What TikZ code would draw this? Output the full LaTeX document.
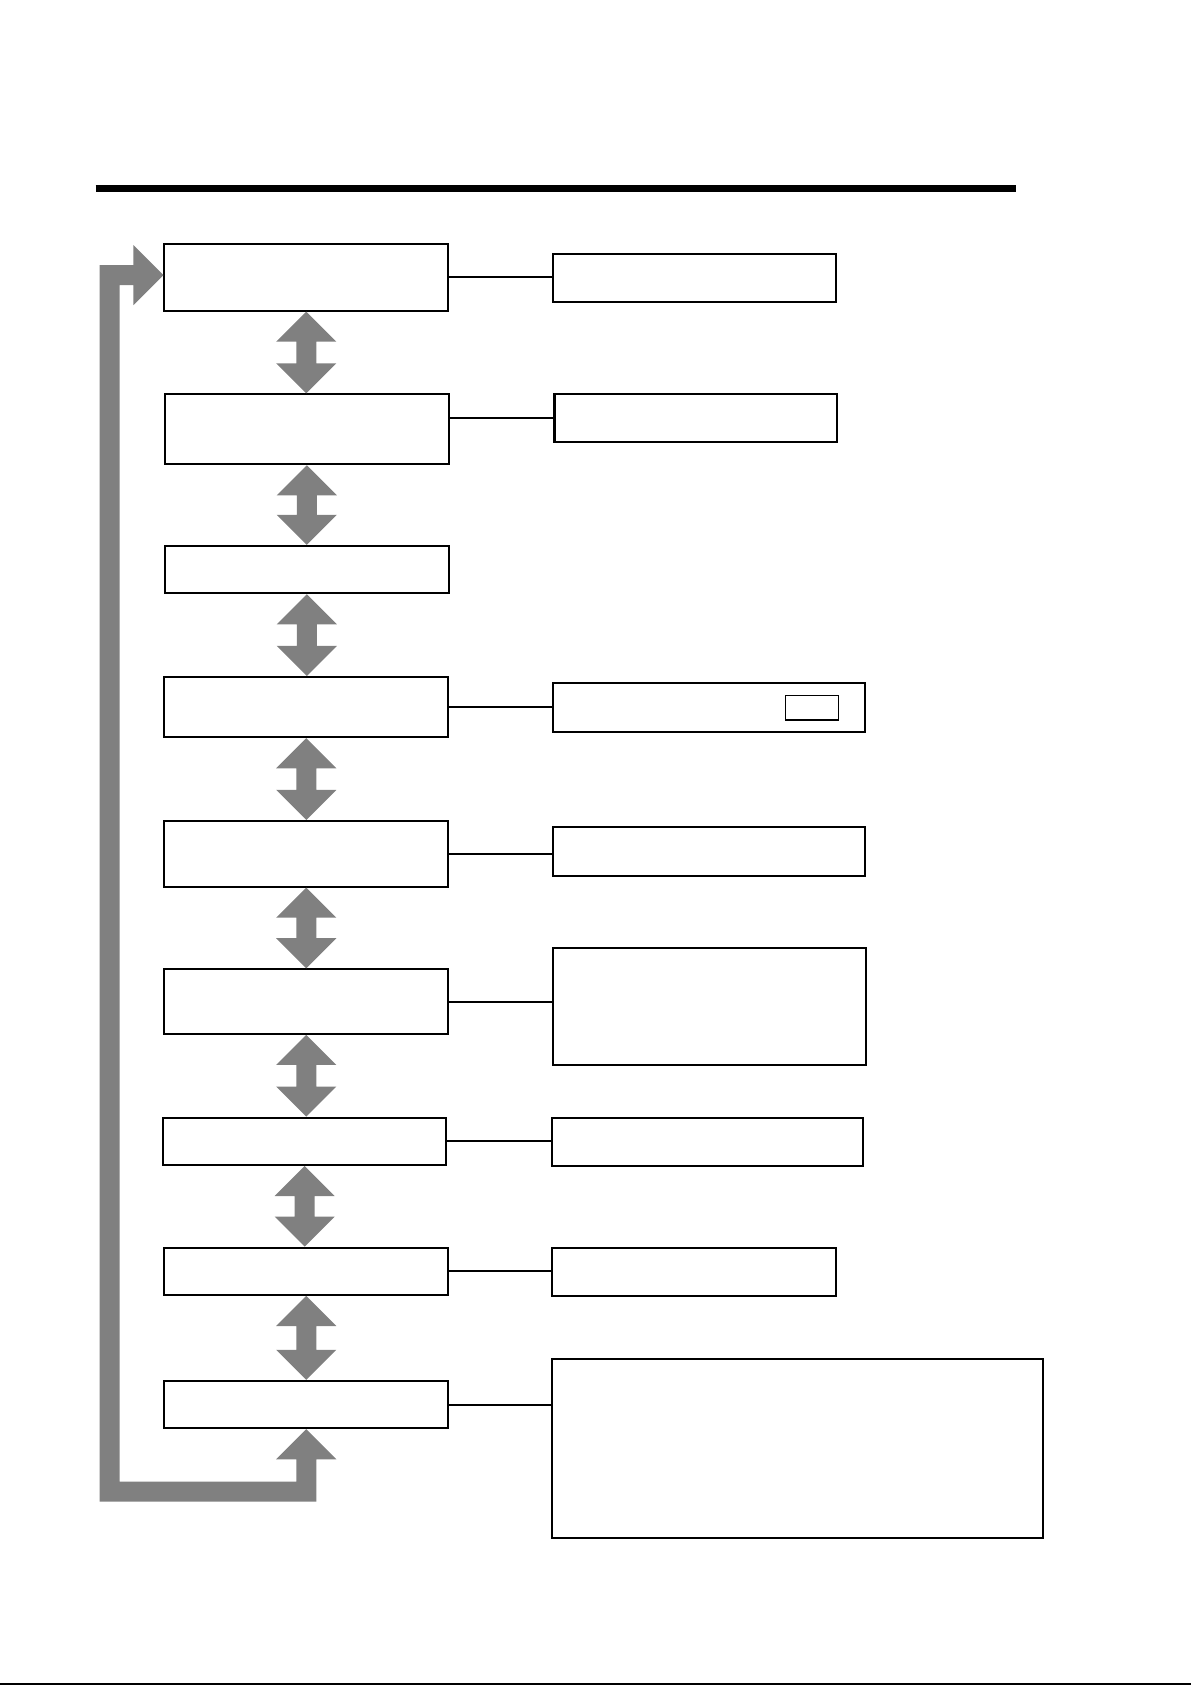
\documentclass[tikz,border=0pt]{standalone}
\newlength{\du}
\setlength{\du}{0.5pt}
\tikzset{
  stepbox/.style={draw=black, line width=1.9\du, minimum width=264\du, inner sep=0pt},
  sidebox/.style={draw=black, line width=1.9\du, inner sep=0pt},
  link/.style={draw=black, line width=1.9\du},
  grayarrow/.style={fill=gray},
}
% two-headed gray arrow from the bottom of #1 to the top of #2, kept upright
\newcommand{\twoway}[2]{%
  \coordinate (tw-a) at (#1.south);
  \coordinate (tw-b) at (#1.south |- #2.north);
  \fill[grayarrow] (tw-a)--([shift={(28\du,28\du)}]tw-a)--([shift={(9.3\du,28\du)}]tw-a)
    --([shift={(9.3\du,-28\du)}]tw-b)--([shift={(28\du,-28\du)}]tw-b)--(tw-b)
    --([shift={(-28\du,-28\du)}]tw-b)--([shift={(-9.3\du,-28\du)}]tw-b)
    --([shift={(-9.3\du,28\du)}]tw-a)--([shift={(-28\du,28\du)}]tw-a)--cycle;}

\begin{document}
\begin{tikzpicture}
\pgftransformxscale{1.000000}
\pgftransformyscale{-1.000000}
\useasboundingbox (0\du,0\du) rectangle (1108.3\du,1568\du);
% rule at the top
\draw[line width=6.5\du] (89\du,175.5\du)--(945\du,175.5\du);
% steps, left column
\node[stepbox, minimum height=62\du] (s1) at (285\du,258\du) {};
\node[stepbox, minimum height=65\du] (s2) at (285.5\du,399.5\du) {};
\node[stepbox, minimum height=44\du] (s3) at (285.5\du,530\du) {};
\node[stepbox, minimum height=56\du] (s4) at (285\du,658\du) {};
\node[stepbox, minimum height=61\du] (s5) at (285\du,794.5\du) {};
\node[stepbox, minimum height=60\du] (s6) at (285\du,932\du) {};
\node[stepbox, minimum width=263\du, minimum height=44\du] (s7) at (283.5\du,1062\du) {};
\node[stepbox, minimum height=44\du] (s8) at (285\du,1183\du) {};
\node[stepbox, minimum height=44\du] (s9) at (285\du,1307\du) {};
% notes, right column
\node[sidebox, minimum width=263\du, minimum height=45\du] (r1) at (646.5\du,258.5\du) {};
\node[sidebox, minimum width=263\du, minimum height=44\du] (r2) at (647.5\du,389\du) {};
\node[sidebox, minimum width=290\du, minimum height=45\du] (r4) at (660\du,658.5\du) {};
\node[draw=black, line width=1\du, minimum width=49\du, minimum height=23\du, inner sep=0pt] (r4b) at (755.5\du,658.5\du) {};
\node[sidebox, minimum width=290\du, minimum height=45\du] (r5) at (660\du,792.5\du) {};
\node[sidebox, minimum width=291\du, minimum height=109\du] (r6) at (660.5\du,936.5\du) {};
\node[sidebox, minimum width=289\du, minimum height=45\du] (r7) at (658.5\du,1062.5\du) {};
\node[sidebox, minimum width=264\du, minimum height=45\du] (r8) at (646\du,1183.5\du) {};
\node[sidebox, minimum width=457\du, minimum height=166\du] (r9) at (742.5\du,1348\du) {};
% links
\draw[link] (r2.west -| s2.east)--(r2.west);
\foreach \i in {1,4,5,6,7,8,9}
  \draw[link] (s\i.east)--(s\i.east -| r\i.west);
% gray arrows
\foreach \i/\j in {1/2,2/3,3/4,4/5,5/6,6/7,7/8,8/9}
  \twoway{s\i}{s\j};
% way back to the top
\coordinate (backtop) at (102\du,256\du);
\coordinate (backlow) at (102\du,1388\du);
\fill[grayarrow] (s9.south)--([shift={(28\du,28\du)}]s9.south)--([shift={(9.3\du,28\du)}]s9.south)
  --([shift={(9.3\du,9.3\du)}]s9.south |- backlow)--([shift={(-9.3\du,9.3\du)}]backlow)
  --([shift={(-9.3\du,-9.3\du)}]backtop)--([shift={(-28\du,-9.3\du)}]backtop -| s1.west)
  --([shift={(-28\du,-28\du)}]backtop -| s1.west)--(backtop -| s1.west)
  --([shift={(-28\du,28\du)}]backtop -| s1.west)--([shift={(-28\du,9.3\du)}]backtop -| s1.west)
  --([shift={(9.3\du,9.3\du)}]backtop)--([shift={(9.3\du,-9.3\du)}]backlow)
  --([shift={(-9.3\du,-9.3\du)}]s9.south |- backlow)--([shift={(-9.3\du,28\du)}]s9.south)
  --([shift={(-28\du,28\du)}]s9.south)--cycle;
% page edge
\draw[line width=1.5\du] (0\du,1567\du)--(1108.3\du,1567\du);
\end{tikzpicture}
\end{document}
